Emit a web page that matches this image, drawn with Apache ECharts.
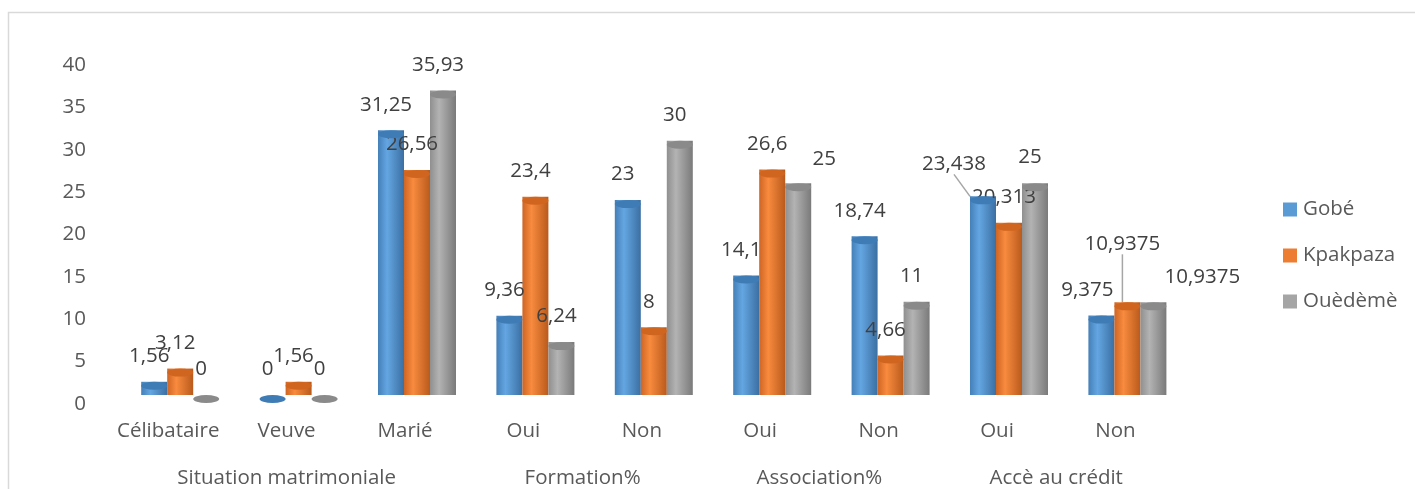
<!DOCTYPE html>
<html><head><meta charset="utf-8">
<script src="https://cdn.jsdelivr.net/npm/echarts@6/dist/echarts.min.js"></script>
<style>html,body{margin:0;padding:0;background:#fff}#c{width:1415px;height:489px}</style>
</head><body><div id="c"></div>
<script>
// ---- data ----
const categories = ['Célibataire','Veuve','Marié','Oui','Non','Oui','Non','Oui','Non'];
const groupLabels = ['Situation matrimoniale','Formation%','Association%','Accè au crédit'];
const groupSpans = [3, 2, 2, 2];
const seriesNames = ['Gobé','Kpakpaza','Ouèdèmè'];
const gobe = [1.56, 0, 31.25, 9.36, 23, 14.1, 18.74, 23.438, 9.375];
const kpakpaza = [3.12, 1.56, 26.56, 23.4, 8, 26.6, 4.66, 20.313, 10.9375];
const ouedeme = [0, 0, 35.93, 6.24, 30, 25, 11, 25, 10.9375];
const yMin = 0, yMax = 40, yStep = 5;

// ---- styling ----
const FONT = 'Open Sans';
const FS = 20.5;
const seriesData = [gobe, kpakpaza, ouedeme];
const baseColors = ['#5B9BD5', '#ED7D31', '#A5A5A5'];
const grads = [
  ['#447FB8', '#64A6E2', '#3B6FA2'],
  ['#CF6524', '#F88B3E', '#B95A1C'],
  ['#8F8F8F', '#B3B3B3', '#7A7A7A']
];
const capColors = ['#3F7CB6', '#D0651F', '#8A8A8A'];
// label nudges: [seriesIndex, dataIndex, dx, dy, leaderLine]
const labelNudges = [
  [2, 5, 31, 2, false],
  [0, 7, -24, -7, true],
  [0, 8, -9, 0, false],
  [1, 8, 0, -33, true],
  [2, 8, 54, 0, false]
];

// second-level axis: half-category ticks, boundaryGap false
const groupAxisData = new Array(categories.length * 2 + 1).fill('');
let start = 0;
groupSpans.forEach((span, k) => {
  groupAxisData[2 * start + span] = groupLabels[k];
  start += span;
});

const fmt = v => String(v).replace('.', ',');

const chart = echarts.init(document.getElementById('c'), null, {renderer: 'canvas'});

const barSeries = seriesData.map((arr, s) => ({
  name: seriesNames[s],
  type: 'bar',
  xAxisIndex: 0,
  barWidth: 26,
  barGap: '0%',
  z: 2,
  itemStyle: {
    color: new echarts.graphic.LinearGradient(0, 0, 1, 0, [
      {offset: 0, color: grads[s][0]},
      {offset: 0.35, color: grads[s][1]},
      {offset: 1, color: grads[s][2]}
    ])
  },
  label: {
    show: true,
    position: 'top',
    distance: 15,
    fontFamily: FONT,
    fontSize: FS,
    color: '#404040',
    formatter: p => fmt(p.value)
  },
  labelLine: {show: false, lineStyle: {color: '#A6A6A6', width: 1.5}},
  labelLayout: function (p) {
    for (const n of labelNudges) {
      if (n[0] === p.seriesIndex && n[1] === p.dataIndex) return {dx: n[2] - 5, dy: n[3]};
    }
    return {dx: -5};
  },
  data: arr.map((v, i) => {
    const hasLine = labelNudges.some(n => n[0] === s && n[1] === i && n[4]);
    return hasLine ? {value: v, labelLine: {show: true}} : v;
  })
}));

const capSeries = seriesData.map((arr, s) => ({
  name: seriesNames[s],
  type: 'pictorialBar',
  xAxisIndex: 0,
  barWidth: 26,
  barGap: '0%',
  symbol: 'circle',
  symbolSize: [26, 8],
  symbolPosition: 'end',
  symbolOffset: [0, 0],
  z: 3,
  itemStyle: {color: capColors[s]},
  data: arr
}));

chart.setOption({
  animation: false,
  backgroundColor: '#fff',
  graphic: [{
    type: 'rect',
    shape: {x: 8.5, y: 12.5, width: 1600, height: 700},
    style: {fill: 'none', stroke: '#D9D9D9', lineWidth: 1.5},
    silent: true
  }],
  legend: {
    data: seriesNames.map((n, s) => ({name: n, itemStyle: {color: baseColors[s]}})),
    orient: 'vertical',
    left: 1283,
    top: 199,
    padding: 0,
    itemWidth: 14,
    itemHeight: 14,
    itemGap: 25,
    icon: 'rect',
    textStyle: {fontFamily: FONT, fontSize: FS, color: '#595959', padding: [0, 0, 0, 1]}
  },
  grid: {left: 121, top: 56, width: 1065.6, height: 340, containLabel: false},
  xAxis: [{
    type: 'category',
    data: categories,
    axisLine: {show: false},
    axisTick: {show: false},
    axisLabel: {
      interval: 0, margin: 26, fontFamily: FONT, fontSize: FS, color: '#595959',
      padding: [0, 24, 0, 0]
    }
  }, {
    type: 'category',
    position: 'bottom',
    data: groupAxisData,
    boundaryGap: false,
    axisLine: {show: false},
    axisTick: {show: false},
    axisLabel: {
      interval: 0, margin: 73, fontFamily: FONT, fontSize: FS, color: '#595959',
      padding: [0, 24, 0, 0]
    }
  }],
  yAxis: {
    type: 'value',
    min: yMin, max: yMax, interval: yStep,
    axisLine: {show: false},
    axisTick: {show: false},
    splitLine: {show: false},
    axisLabel: {margin: 35, fontFamily: FONT, fontSize: FS, color: '#595959', verticalAlign: 'top', lineHeight: 18}
  },
  series: [...barSeries, ...capSeries]
});
</script>
</body></html>
